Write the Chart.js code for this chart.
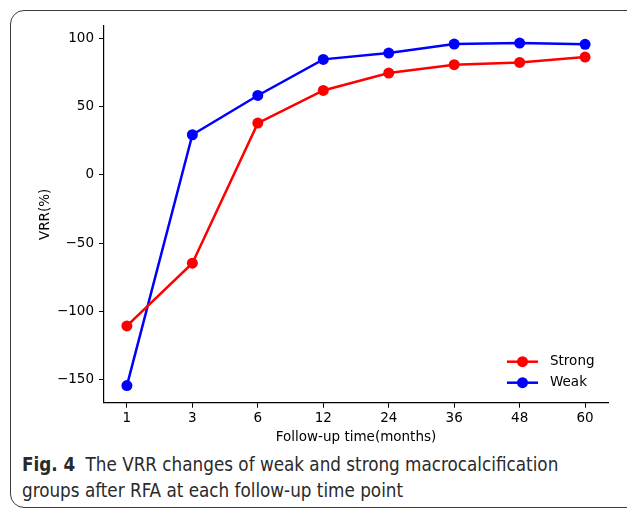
<!DOCTYPE html>
<html>
<head>
<meta charset="utf-8">
<script src="https://cdn.jsdelivr.net/npm/chart.js@4"></script>
<style>
  html, body { margin: 0; padding: 0; background: #fff; }
  body { width: 627px; height: 513px; position: relative; overflow: hidden; }
  #frame {
    position: absolute; left: 10px; top: 10px; width: 660px; height: 498px;
    border: 1.5px solid #3a3a3a; border-radius: 14px; box-sizing: border-box;
  }
  #wrap { position: absolute; left: 0; top: 0; width: 627px; height: 450px; }
  #caption {
    position: absolute; left: 22px; top: 452px; width: 600px;
    font-family: "DejaVu Sans Condensed", "Liberation Sans", sans-serif;
    font-size: 18.7px; line-height: 26px; color: #2a2a2a;
  }
  #caption b { font-weight: bold; margin-right: 5px; }
</style>
</head>
<body>
<div id="frame"></div>
<div id="wrap"><canvas id="chart" width="627" height="450"></canvas></div>
<div id="caption"><b>Fig. 4</b> The VRR changes of weak and strong macrocalcification<br>groups after RFA at each follow-up time point</div>
<script>
// 追跡時点（月）
const months = ['1', '3', '6', '12', '24', '36', '48', '60'];
const strongVRR = [-110.5, -64.6, 37.8, 61.7, 74.4, 80.5, 82.2, 86.1];
const weakVRR = [-154.1, 29.3, 58.0, 84.4, 89.0, 95.6, 96.3, 95.4];
const yTickValues = [-150, -100, -50, 0, 50, 100];

const tickFont = { family: 'DejaVu Sans', size: 13.5 };

function toPoints(values) {
  return values.map((v, i) => ({ x: i, y: v }));
}

// 凡例をプロット内の右下に描く
const innerLegend = {
  id: 'innerLegend',
  afterDatasetsDraw(chart) {
    const ctx = chart.ctx;
    const area = chart.chartArea;
    const x0 = area.right - 101;
    let y = area.bottom - 41;
    ctx.save();
    ctx.font = '13.5px "DejaVu Sans"';
    ctx.textBaseline = 'middle';
    chart.data.datasets.forEach(ds => {
      ctx.strokeStyle = ds.borderColor;
      ctx.lineWidth = 2.5;
      ctx.beginPath();
      ctx.moveTo(x0, y);
      ctx.lineTo(x0 + 31, y);
      ctx.stroke();
      ctx.fillStyle = ds.backgroundColor;
      ctx.beginPath();
      ctx.arc(x0 + 15.5, y, 5.5, 0, Math.PI * 2);
      ctx.fill();
      ctx.fillStyle = '#000';
      ctx.fillText(ds.label, x0 + 43, y);
      y += 21;
    });
    ctx.restore();
  }
};

var ctx = document.getElementById('chart').getContext('2d');
var myChart = new Chart(ctx, {
  type: 'line',
  data: {
    datasets: [
      {
        label: 'Strong',
        data: toPoints(strongVRR),
        borderColor: '#ff0000',
        backgroundColor: '#ff0000',
        borderWidth: 2.5,
        pointRadius: 5.5,
        pointBorderWidth: 0,
        pointHoverRadius: 5.5
      },
      {
        label: 'Weak',
        data: toPoints(weakVRR),
        borderColor: '#0000ff',
        backgroundColor: '#0000ff',
        borderWidth: 2.5,
        pointRadius: 5.5,
        pointBorderWidth: 0,
        pointHoverRadius: 5.5
      }
    ]
  },
  options: {
    responsive: false,
    animation: false,
    layout: { padding: { left: 0, right: 19, top: 26, bottom: 0 } },
    plugins: {
      legend: { display: false },
      tooltip: { enabled: false }
    },
    scales: {
      x: {
        type: 'linear',
        min: -0.35,
        max: 7.35,
        afterBuildTicks: s => { s.ticks = months.map((m, i) => ({ value: i })); },
        afterFit: s => { s.height = 47.3; },
        ticks: {
          font: tickFont,
          color: '#000',
          padding: 3,
          maxRotation: 0,
          autoSkip: false,
          callback: v => months[v]
        },
        grid: { display: true, drawOnChartArea: false, drawTicks: true, tickLength: 5, color: '#000' },
        border: { display: true, color: '#000', width: 1.2 },
        title: {
          display: true,
          text: 'Follow-up time(months)',
          font: tickFont,
          color: '#000',
          padding: { top: 0, bottom: 4 }
        }
      },
      y: {
        min: -166.6,
        max: 108.8,
        afterBuildTicks: s => { s.ticks = yTickValues.map(v => ({ value: v })); },
        afterFit: s => { s.width = 104; },
        ticks: {
          font: tickFont,
          color: '#000',
          padding: 5,
          callback: v => String(v).replace('-', '\u2212')
        },
        grid: { display: true, drawOnChartArea: false, drawTicks: true, tickLength: 5, color: '#000' },
        border: { display: true, color: '#000', width: 1.2 },
        title: {
          display: true,
          text: 'VRR(%)',
          font: tickFont,
          color: '#000',
          padding: { top: 37, bottom: 0 }
        }
      }
    }
  },
  plugins: [innerLegend]
});
</script>
</body>
</html>
